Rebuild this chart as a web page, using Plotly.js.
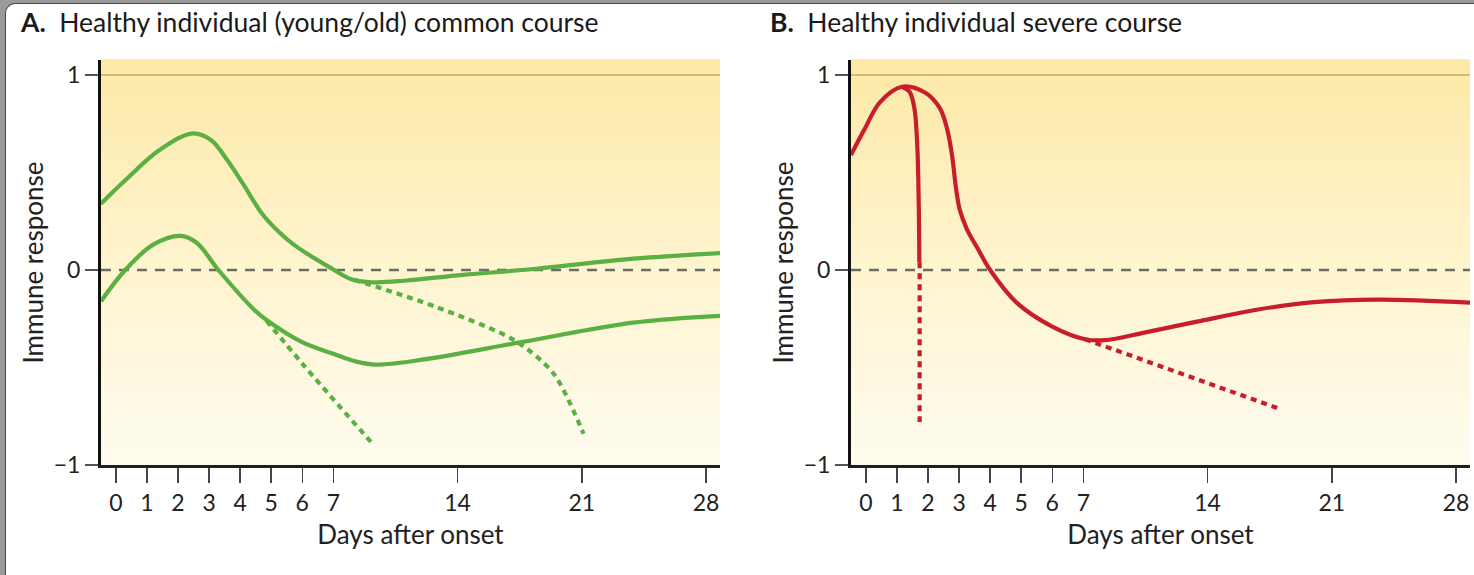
<!DOCTYPE html>
<html>
<head>
<meta charset="utf-8">
<script src="https://cdn.plot.ly/plotly-3.0.1.min.js"></script>
<style>
  html, body { margin:0; padding:0; width:1474px; height:575px; overflow:hidden; background:#fff; }
  #frame { position:absolute; left:0; top:0; width:1474px; height:575px; background:#9a9a9a; }
  #sheet { position:absolute; left:5px; top:3px; width:1480px; height:585px; background:#fff;
           border-left:1.5px solid #4a4a4a; border-top:1.5px solid #4a4a4a; border-radius:10px 0 0 10px; }
  #chart { position:absolute; left:0; top:0; width:1474px; height:575px; }
</style>
</head>
<body>
<div id="frame"></div>
<div id="sheet"></div>
<div id="chart"></div>
<script>
// ---------- data (days after onset, immune response) ----------
const dayTicks = [0, 1, 2, 3, 4, 5, 6, 7, 14, 21, 28];
const yTicks = [-1, 0, 1];
const yTickText = ['\u22121', '0', '1'];

// Panel A – healthy individual, common course
const aUpperDays = [-0.48, 0.3, 1.4, 2.45, 3.06, 3.6, 4.1, 4.7, 5.25, 5.77, 6.87, 8.1, 9.3, 11, 14.3, 18.3, 23.9, 28.8];
const aUpperVals = [0.34, 0.46, 0.615, 0.70, 0.667, 0.56, 0.44, 0.29, 0.195, 0.125, 0.015, -0.05, -0.063, -0.055, -0.025, 0.005, 0.058, 0.087];
const aUpperFailDays = [8.2, 12.8, 17.2, 19.4, 21.1];
const aUpperFailVals = [-0.05, -0.19, -0.36, -0.53, -0.84];
const aLowerDays = [-0.48, 0.3, 1.2, 2.08, 2.6, 3.3, 4.46, 4.85, 6.0, 7.0, 8.3, 9.4, 12, 17.6, 23.9, 28.8];
const aLowerVals = [-0.16, 0.0, 0.13, 0.175, 0.14, 0.0, -0.205, -0.256, -0.37, -0.43, -0.47, -0.485, -0.46, -0.37, -0.27, -0.235];
const aLowerFailDays = [4.85, 6.0, 9.2];
const aLowerFailVals = [-0.26, -0.48, -0.89];

// Panel B – healthy individual, severe course
const bMainDays = [-0.48, -0.05, 0.45, 1.16, 1.9, 2.38, 2.62, 2.78, 2.9, 3.02, 3.25, 3.6, 4.0, 4.87, 6.0, 7.1, 8.2, 10.5, 13.4, 17, 20, 23.6, 28.8];
const bMainVals = [0.59, 0.72, 0.86, 0.94, 0.91, 0.83, 0.72, 0.58, 0.42, 0.31, 0.21, 0.11, 0.0, -0.17, -0.29, -0.355, -0.36, -0.32, -0.265, -0.2, -0.165, -0.152, -0.167];
const bEarlyDropDays = [1.16, 1.4, 1.56, 1.65, 1.70, 1.72];
const bEarlyDropVals = [0.94, 0.915, 0.83, 0.65, 0.35, 0.04];
const bEarlyFailDays = [1.73, 1.73];
const bEarlyFailVals = [0.04, -0.78];
const bLateFailDays = [7.1, 18.0];
const bLateFailVals = [-0.355, -0.71];

// ---------- broken day scale: days 0–7 full width, later weeks compressed ----------
function tx(d) { return d <= 7 ? d : 7 + (d - 7) * 4 / 7; }
const X = arr => arr.map(tx);

const GREEN = '#5bb043';
const RED = '#c81e2c';
const FONT = 'Lato, "Open Sans", sans-serif';

function solid(days, vals, color, xa, ya) {
  return { type:'scatter', mode:'lines', x:X(days), y:vals, xaxis:xa, yaxis:ya,
           line:{ color:color, width:4.2, shape:'spline', smoothing:1 }, hoverinfo:'skip', showlegend:false };
}
function dotted(days, vals, color, xa, ya) {
  return { type:'scatter', mode:'lines', x:X(days), y:vals, xaxis:xa, yaxis:ya,
           line:{ color:color, width:4.2, dash:'6px,5px', shape:'spline', smoothing:0.8 }, hoverinfo:'skip', showlegend:false };
}

const traces = [
  dotted(aUpperFailDays, aUpperFailVals, GREEN, 'x', 'y'),
  dotted(aLowerFailDays, aLowerFailVals, GREEN, 'x', 'y'),
  solid(aUpperDays, aUpperVals, GREEN, 'x', 'y'),
  solid(aLowerDays, aLowerVals, GREEN, 'x', 'y'),
  dotted(bEarlyFailDays, bEarlyFailVals, RED, 'x2', 'y2'),
  dotted(bLateFailDays, bLateFailVals, RED, 'x2', 'y2'),
  solid(bEarlyDropDays, bEarlyDropVals, RED, 'x2', 'y2'),
  solid(bMainDays, bMainVals, RED, 'x2', 'y2')
];

// ---------- background gradient (decorative stripes) ----------
const shapes = [];
const TOP = [253, 233, 166], BOT = [255, 252, 238];
const N = 90;
['x', 'x2'].forEach((xa, k) => {
  const ya = k === 0 ? 'y' : 'y2';
  for (let i = 0; i < N; i++) {
    const f = (i + 0.5) / N;            // 0 bottom -> 1 top
    const g = Math.pow(f, 1.15);
    const c = BOT.map((b, j) => Math.round(b + (TOP[j] - b) * g));
    shapes.push({ type:'rect', layer:'below', xref:xa + ' domain', yref:ya + ' domain',
                  x0:0, x1:1, y0:i / N, y1:(i + 1) / N + 0.002,
                  fillcolor:'rgb(' + c.join(',') + ')', line:{ width:0 } });
  }
  shapes.push({ type:'line', layer:'below', xref:xa + ' domain', yref:ya, x0:0, x1:1, y0:1, y1:1,
                line:{ color:'rgba(185,160,100,0.85)', width:1.3 } });
  shapes.push({ type:'line', layer:'below', xref:xa + ' domain', yref:ya, x0:0, x1:1, y0:0, y1:0,
                line:{ color:'#6d6c64', width:2.6, dash:'10px,8px' } });
});

function xAxis(domain, anchor) {
  return { domain:domain, anchor:anchor, range:[-0.48, 19.45],
           tickvals:X(dayTicks), ticktext:dayTicks.map(String),
           ticks:'outside', ticklen:15, tickwidth:1.5, tickcolor:'#444',
           showline:true, linecolor:'#1e1e1e', linewidth:3, showgrid:false, zeroline:false,
           tickfont:{ family:FONT, size:23, color:'#222' },
           title:{ text:'Days after onset', font:{ family:FONT, size:26, color:'#222' }, standoff:12 },
           fixedrange:true };
}
function yAxis(anchor) {
  return { domain:[0, 1], anchor:anchor, range:[-1, 1.077],
           tickvals:yTicks, ticktext:yTickText,
           ticks:'outside', ticklen:13, tickwidth:1.5, tickcolor:'#555',
           showline:true, linecolor:'#111', linewidth:3, showgrid:false, zeroline:false,
           tickfont:{ family:FONT, size:23, color:'#222' },
           title:{ text:'Immune response', font:{ family:FONT, size:26, color:'#222' }, standoff:3 },
           fixedrange:true };
}

const W = 1474;
const layout = {
  width:1474, height:575,
  margin:{ l:0, r:0, t:60, b:110 },
  paper_bgcolor:'rgba(0,0,0,0)', plot_bgcolor:'rgba(0,0,0,0)',
  font:{ family:FONT, color:'#222' },
  xaxis:xAxis([101 / W, 720 / W], 'y'),
  yaxis:yAxis('x'),
  xaxis2:xAxis([851 / W, 1470 / W], 'y2'),
  yaxis2:yAxis('x2'),
  shapes:shapes,
  annotations:[
    { xref:'paper', yref:'paper', x:18 / W, y:1 + 38 / 405, xanchor:'left', yanchor:'middle', showarrow:false,
      text:'<b>A.</b>  Healthy individual (young/old) common course', font:{ family:FONT, size:26.5, color:'#1a1a1a' } },
    { xref:'paper', yref:'paper', x:768 / W, y:1 + 38 / 405, xanchor:'left', yanchor:'middle', showarrow:false,
      text:'<b>B.</b>  Healthy individual severe course', font:{ family:FONT, size:26.5, color:'#1a1a1a' } }
  ]
};

Plotly.newPlot('chart', traces, layout, { staticPlot:true, displayModeBar:false });
</script>
</body>
</html>
